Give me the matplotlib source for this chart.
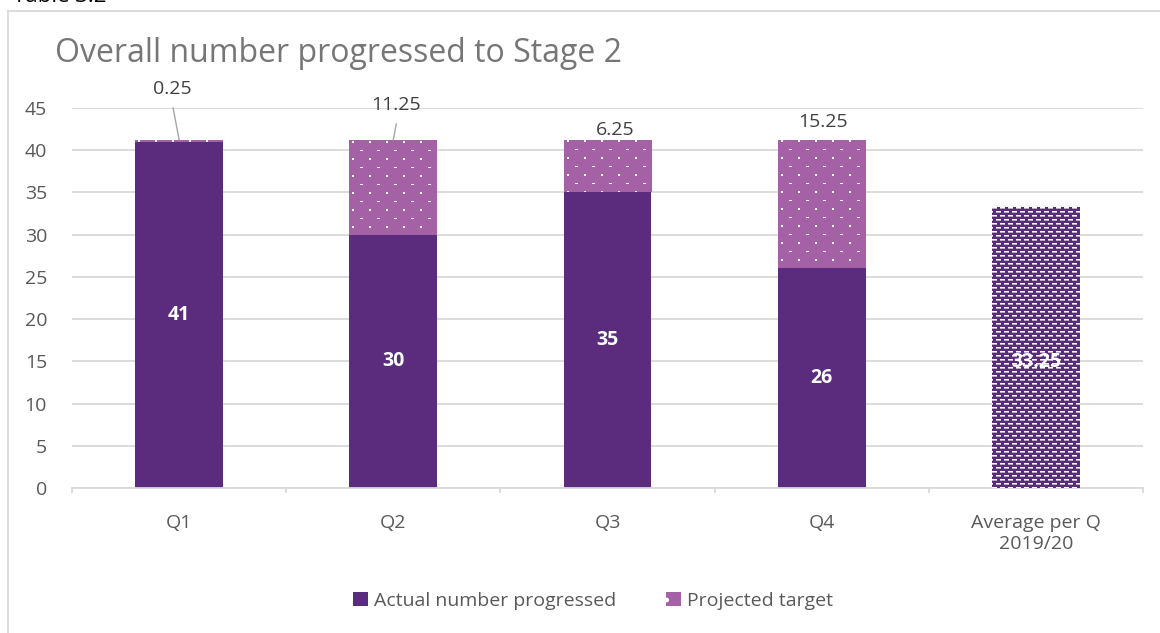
import numpy as np
import matplotlib.pyplot as plt
from matplotlib.patches import Patch
from matplotlib.lines import Line2D

quarters = ['Q1', 'Q2', 'Q3', 'Q4', 'Average per Q\n2019/20']
actual = [41, 30, 35, 26]
projected = [0.25, 11.25, 6.25, 15.25]
average = 33.25
# projected labels were dragged above the bars (y in chart units)
proj_label_y = [47.2, 45.4, 42.4, 43.4]
proj_label_dx = [-0.03, 0.014, 0.037, 0.005]

dark = '#5B2C7D'
pink = '#A461A6'
txt_grey = '#595959'
line_grey = '#D9D9D9'

plt.rcParams['font.family'] = ['Open Sans', 'DejaVu Sans']

W, H, DPI = 1160, 633, 100
fig = plt.figure(figsize=(W / DPI, H / DPI), dpi=DPI)
ax = fig.add_axes([72 / W, 1 - 488 / H, (1143 - 72) / W, (488 - 108) / H])
ax.set_xlim(-0.5, 4.5)
ax.set_ylim(0, 45)


def pattern_fill(ax, bar, base, kind):
    # paint a pixel texture inside a bar, clipped to its outline
    x, y, w, h = bar.get_x(), bar.get_y(), bar.get_width(), bar.get_height()
    (px0, py0), (px1, py1) = ax.transData.transform([(x, y), (x + w, y + h)])
    nw, nh = max(int(round(px1 - px0)), 1), max(int(round(py1 - py0)), 1)
    yy, xx = np.mgrid[0:nh, 0:nw]
    if kind == 'dots':
        dots = (xx % 17 >= 3) & (xx % 17 <= 4) & (yy % 17 >= 1) & (yy % 17 <= 2)
        dashes = (xx % 17 >= 11) & (xx % 17 <= 13) & (yy % 17 == 10)
        wt = (dots | dashes).astype(float)
    else:
        row = yy // 4
        on = ((xx + 4 * (row % 2)) % 8) < 5
        wt = np.where(yy % 4 == 0, 1.0, np.where(yy % 4 == 1, 0.6, 0.0)) * on
    rgb = np.array(plt.matplotlib.colors.to_rgb(base))
    img = rgb[None, None, :] * (1 - wt[..., None]) + wt[..., None]
    im = ax.imshow(img, extent=(x, x + w, y, y + h), origin='upper',
                   aspect='auto', interpolation='nearest', zorder=3)
    im.set_clip_path(bar)
    bar.set_visible(False)


pos = np.arange(len(actual))
bw = 0.41
ax.bar(pos, actual, bw, color=dark, zorder=2)
proj_bars = ax.bar(pos, projected, bw, bottom=actual, color=pink, zorder=2)
avg_bar = ax.bar([4], [average], bw, color=dark, zorder=2)

for b in proj_bars:
    pattern_fill(ax, b, pink, 'dots')
pattern_fill(ax, avg_bar[0], dark, 'bricks')
ax.set_xlim(-0.5, 4.5)
ax.set_ylim(0, 45)

# value labels
for i, a in enumerate(actual):
    ax.text(i, a / 2, str(a), color='white', fontsize=14, fontweight='bold',
            ha='center', va='center', zorder=5)
ax.text(4, 14.9, f'{average:.2f}', color='white', fontsize=14,
        fontweight='bold', ha='center', va='center', zorder=5)

for i, (p, ly) in enumerate(zip(projected, proj_label_y)):
    ax.text(i + proj_label_dx[i], ly, f'{p:.2f}', color='#404040', fontsize=14,
            ha='center', va='center', zorder=5, clip_on=False)

# leader lines for the two labels that sit away from their bars
ax.plot([-0.028, 0.0], [45.0, actual[0] + projected[0]], color='#A6A6A6',
        lw=1, zorder=4, clip_on=False)
ax.plot([1.014, 1.0], [43.1, actual[1] + projected[1]], color='#A6A6A6',
        lw=1, zorder=4, clip_on=False)

ax.set_yticks(np.arange(0, 46, 5))
ax.set_xticks(pos.tolist() + [4])
ax.set_xticklabels(quarters)
ax.set_xticks(np.arange(-0.5, 5, 1), minor=True)
ax.tick_params(axis='x', which='major', length=0, pad=19, labelsize=14,
               labelcolor=txt_grey)
ax.tick_params(axis='x', which='minor', length=3.6, width=1.3, color=line_grey)
ax.tick_params(axis='y', length=0, pad=18, labelsize=14, labelcolor=txt_grey)
ax.yaxis.grid(True, color=line_grey, lw=1.3)
ax.set_axisbelow(True)
for s in ['left', 'right', 'top']:
    ax.spines[s].set_visible(False)
ax.spines['bottom'].set_color(line_grey)
ax.spines['bottom'].set_linewidth(1.3)

handles = [Patch(facecolor=dark, edgecolor=dark, lw=0),
           Patch(facecolor=pink, hatch='.', edgecolor='white', lw=0)]
fig.legend(handles, ['Actual number progressed', 'Projected target'],
           loc='center', bbox_to_anchor=(593 / W, 1 - 601 / H), ncol=2,
           frameon=False, fontsize=14, labelcolor=txt_grey,
           handlelength=0.75, handleheight=0.75, handletextpad=0.3,
           columnspacing=2.6)

fig.text(55 / W, 1 - 54 / H, 'Overall number progressed to Stage 2',
         fontsize=23, color='#767676', va='center', ha='left')
fig.text(13 / W, 1 - 2.5 / H, 'Table 3.2', fontsize=16, color='black',
         va='baseline', ha='left')

# chart area border
fig.add_artist(Line2D([8 / W, 8 / W], [0, 1 - 11 / H], color=line_grey, lw=1.3))
fig.add_artist(Line2D([8 / W, 1], [1 - 11 / H, 1 - 11 / H], color=line_grey, lw=1.3))

fig.savefig('out.png', dpi=DPI)
